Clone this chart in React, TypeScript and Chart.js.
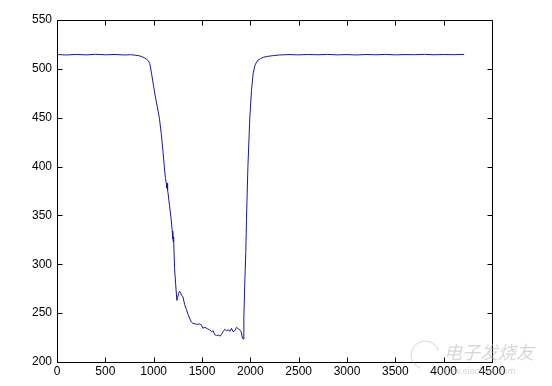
import React, { useEffect, useRef } from "react";
import { Chart, registerables } from "chart.js";

Chart.register(...registerables);

const xValues = [
  0, 100, 200, 300, 400, 500, 600, 700, 760, 800, 840, 870, 900, 925, 945, 960, 980, 1000, 1020, 1040,
  1060, 1078, 1094, 1110, 1122, 1132, 1137, 1140, 1144, 1150, 1164, 1181, 1192, 1196, 1199, 1202, 1206,
  1216, 1228, 1240, 1248, 1258, 1268, 1278, 1290, 1302, 1320, 1337, 1355, 1371, 1390, 1406, 1430, 1455,
  1475, 1493, 1510, 1530, 1555, 1579, 1600, 1615, 1631, 1650, 1670, 1690, 1700, 1718, 1735, 1752, 1770,
  1790, 1805, 1822, 1840, 1857, 1875, 1891, 1905, 1919, 1925, 1933, 1943, 1953, 1960, 1975, 1995, 2012,
  2029, 2047, 2065, 2081, 2105, 2133, 2180, 2240, 2300, 2400, 2500, 2600, 2700, 2800, 2900, 3000, 3100,
  3200, 3300, 3400, 3500, 3600, 3700, 3800, 3900, 4000, 4100, 4200, 4212,
];

const yValues = [
  514.6, 514.2, 514.8, 514.3, 514.9, 514.4, 514.7, 514.2, 514.5, 514.1, 513.6, 512.8, 511.5, 510, 508.2,
  505.5, 494, 482, 470, 460, 449, 434, 418, 400, 388, 382, 378, 383, 376, 372, 360, 346, 334, 326, 333,
  323, 328, 296, 279, 263, 266, 270, 272.5, 271, 268, 267, 259, 254, 249, 245, 241, 239.5, 239, 238.5,
  239, 238, 234.5, 235.5, 234, 233, 231, 232, 228, 227, 227.5, 226.5, 228, 231, 233.5, 232, 233, 231.5,
  234.5, 231, 232, 235.5, 234, 233, 231, 224.5, 223.5, 246, 282, 312, 345, 400, 451, 478, 495, 503.5,
  507, 509, 510.5, 511.8, 512.8, 513.6, 514.2, 514.6, 514.3, 514.7, 514.4, 514.8, 514.3, 514.6, 514.2,
  514.7, 514.4, 514.8, 514.3, 514.6, 514.5, 514.9, 514.4, 514.7, 514.5, 514.8, 514.6, 514.5,
];

const xTickValues = [0, 500, 1000, 1500, 2000, 2500, 3000, 3500, 4000, 4500];
const yTickValues = [200, 250, 300, 350, 400, 450, 500, 550];

const watermarkTitle = "电子发烧友";
const watermarkUrl = "www.elecfans.com";

const boxPlugin = {
  id: "matlabBox",
  afterDraw(chart: any) {
    const { ctx, chartArea } = chart;
    const { left, right, top, bottom } = chartArea;
    const xs = chart.scales.x;
    const ys = chart.scales.y;
    const tl = 5;
    ctx.save();
    ctx.strokeStyle = "#000";
    ctx.lineWidth = 1;
    ctx.beginPath();
    const L = Math.round(left) + 0.5;
    const R = Math.round(right) + 0.5;
    const T = Math.round(top) + 0.5;
    const B = Math.round(bottom) + 0.5;
    ctx.rect(L, T, R - L, B - T);
    xTickValues.forEach((v) => {
      const px = Math.round(xs.getPixelForValue(v)) + 0.5;
      ctx.moveTo(px, B);
      ctx.lineTo(px, B - tl);
      ctx.moveTo(px, T);
      ctx.lineTo(px, T + tl);
    });
    yTickValues.forEach((v) => {
      const py = Math.round(ys.getPixelForValue(v)) + 0.5;
      ctx.moveTo(L, py);
      ctx.lineTo(L + tl, py);
      ctx.moveTo(R, py);
      ctx.lineTo(R - tl, py);
    });
    ctx.stroke();

    // faint watermark
    ctx.fillStyle = "rgba(175,175,175,0.5)";
    ctx.font = "italic 18px 'Noto Sans CJK SC'";
    ctx.textBaseline = "alphabetic";
    ctx.textAlign = "left";
    ctx.fillText(watermarkTitle, 444, 359);
    ctx.font = "8px 'DejaVu Sans'";
    ctx.fillText(watermarkUrl, 441, 374);
    ctx.strokeStyle = "rgba(175,175,175,0.5)";
    ctx.beginPath();
    ctx.arc(425, 355, 14, Math.PI * 0.6, Math.PI * 1.9);
    ctx.stroke();
    ctx.restore();
  },
};

export default function App() {
  const ref = useRef<HTMLCanvasElement | null>(null);
  useEffect(() => {
    document.body.style.margin = "0";
    const canvas = ref.current;
    if (!canvas) return;
    const data = xValues.map((x, i) => ({ x, y: yValues[i] }));
    const chart = new Chart(canvas, {
      type: "line",
      data: {
        datasets: [
          {
            data,
            borderColor: "rgb(24,24,150)",
            borderWidth: 1,
            pointRadius: 0,
            tension: 0,
            fill: false,
          },
        ],
      },
      options: {
        animation: false,
        responsive: false,
        parsing: false as any,
        layout: { padding: { left: 0, top: 20, right: 60, bottom: 0 } },
        plugins: { legend: { display: false }, tooltip: { enabled: false } },
        scales: {
          x: {
            type: "linear",
            min: 0,
            max: 4500,
            afterBuildTicks: (s: any) => {
              s.ticks = xTickValues.map((v) => ({ value: v }));
            },
            afterFit: (s: any) => {
              s.height = 24;
            },
            grid: { display: false, drawTicks: false },
            border: { display: false },
            ticks: {
              autoSkip: false,
              maxRotation: 0,
              padding: 2,
              color: "#000",
              callback: (v: any) => String(v),
              font: { family: "'Liberation Sans', Arial, sans-serif", size: 12 },
            },
          },
          y: {
            type: "linear",
            min: 200,
            max: 550,
            afterBuildTicks: (s: any) => {
              s.ticks = yTickValues.map((v) => ({ value: v }));
            },
            afterFit: (s: any) => {
              s.width = 57;
            },
            grid: { display: false, drawTicks: false },
            border: { display: false },
            ticks: {
              autoSkip: false,
              padding: 5,
              color: "#000",
              callback: (v: any) => String(v),
              font: { family: "'Liberation Sans', Arial, sans-serif", size: 12 },
            },
          },
        },
      },
      plugins: [boxPlugin],
    });
    return () => chart.destroy();
  }, []);
  return (
    <div style={{ width: 552, height: 386, background: "#fff" }}>
      <canvas ref={ref} width={552} height={386} style={{ display: "block" }} />
    </div>
  );
}
